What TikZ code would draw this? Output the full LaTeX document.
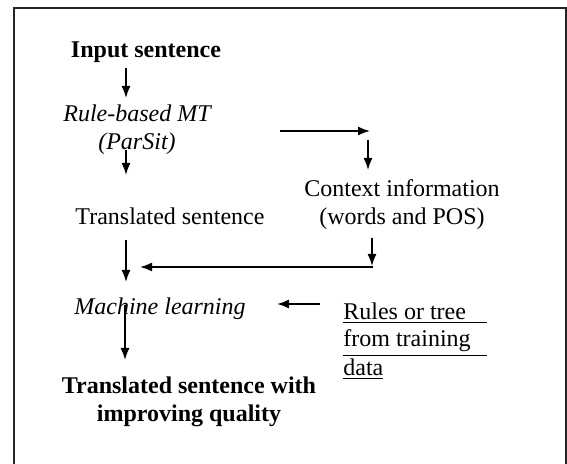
\documentclass[tikz,border=0pt]{standalone}
\usepackage{fontspec}
\setmainfont{Liberation Serif}
\usetikzlibrary{arrows.meta}

\newcommand{\figsize}{\fontsize{12}{14}\selectfont}

\begin{document}
\begin{tikzpicture}[
    x=0.5pt, y=-0.5pt,
    font=\figsize,
    frame/.style={draw=black!85, line width=0.8pt},
    flow/.style={-{Latex[length=6pt,width=4.5pt]}, line width=0.8pt},
    stage/.style={align=center, inner sep=0pt, anchor=base},
    bstage/.style={stage, font=\figsize\bfseries},
    istage/.style={stage, font=\figsize\itshape},
    source/.style={align=left, inner sep=0pt, anchor=base west}
]
\useasboundingbox (0,0) rectangle (567,464);

% =========================================================
% Frame
% =========================================================
\draw[frame] (14,464) -- (14,8) -- (566,8) -- (566,464);

% =========================================================
% Stages (multi-line nodes sit on their last baseline)
% =========================================================
\node[bstage] (input) at (146,58) {Input sentence};
\node[istage] (rbmt) at (137,150) {Rule-based MT\\(ParSit)};
\node[stage] (trans) at (170,225) {Translated sentence};
\node[stage] (context) at (402,225) {Context information\\(words and POS)};
\node[istage] (ml) at (160,315) {Machine learning};
\node[source] (rules) at (343,375)
    {\underline{\makebox[72pt][l]{Rules or tree}}\\
     \underline{\makebox[72pt][l]{from training}}\\
     \underline{data}};
\node[bstage] (output) at (189,422) {Translated sentence with\\improving quality};

% Arrow ends
\coordinate (in-s) at (126,68);   \coordinate (in-e) at (126,98);
\coordinate (rb-s) at (126,150);  \coordinate (rb-e) at (126,175);
\coordinate (cx-s) at (280,131);  \coordinate (cx-e) at (370,131);
\coordinate (cd-s) at (368,140);  \coordinate (cd-e) at (368,170);
\coordinate (tr-s) at (126,240);  \coordinate (tr-e) at (126,282);
\coordinate (cb-s) at (372,238);  \coordinate (cb-e) at (372,266);
\coordinate (jn-s) at (373,267);  \coordinate (jn-e) at (140,267);
\coordinate (ru-s) at (320,304);  \coordinate (ru-e) at (277,304);
\coordinate (ml-s) at (125,305);  \coordinate (ml-e) at (125,360);

% =========================================================
% Connectors
% =========================================================
\draw[flow] (in-s) -- (in-e);
\draw[flow] (rb-s) -- (rb-e);
\draw[flow] (cx-s) -- (cx-e);
\draw[flow] (cd-s) -- (cd-e);
\draw[flow] (tr-s) -- (tr-e);
\draw[flow] (cb-s) -- (cb-e);
\draw[flow] (jn-s) -- (jn-e);
\draw[flow] (ru-s) -- (ru-e);
\draw[flow] (ml-s) -- (ml-e);

\end{tikzpicture}
\end{document}
